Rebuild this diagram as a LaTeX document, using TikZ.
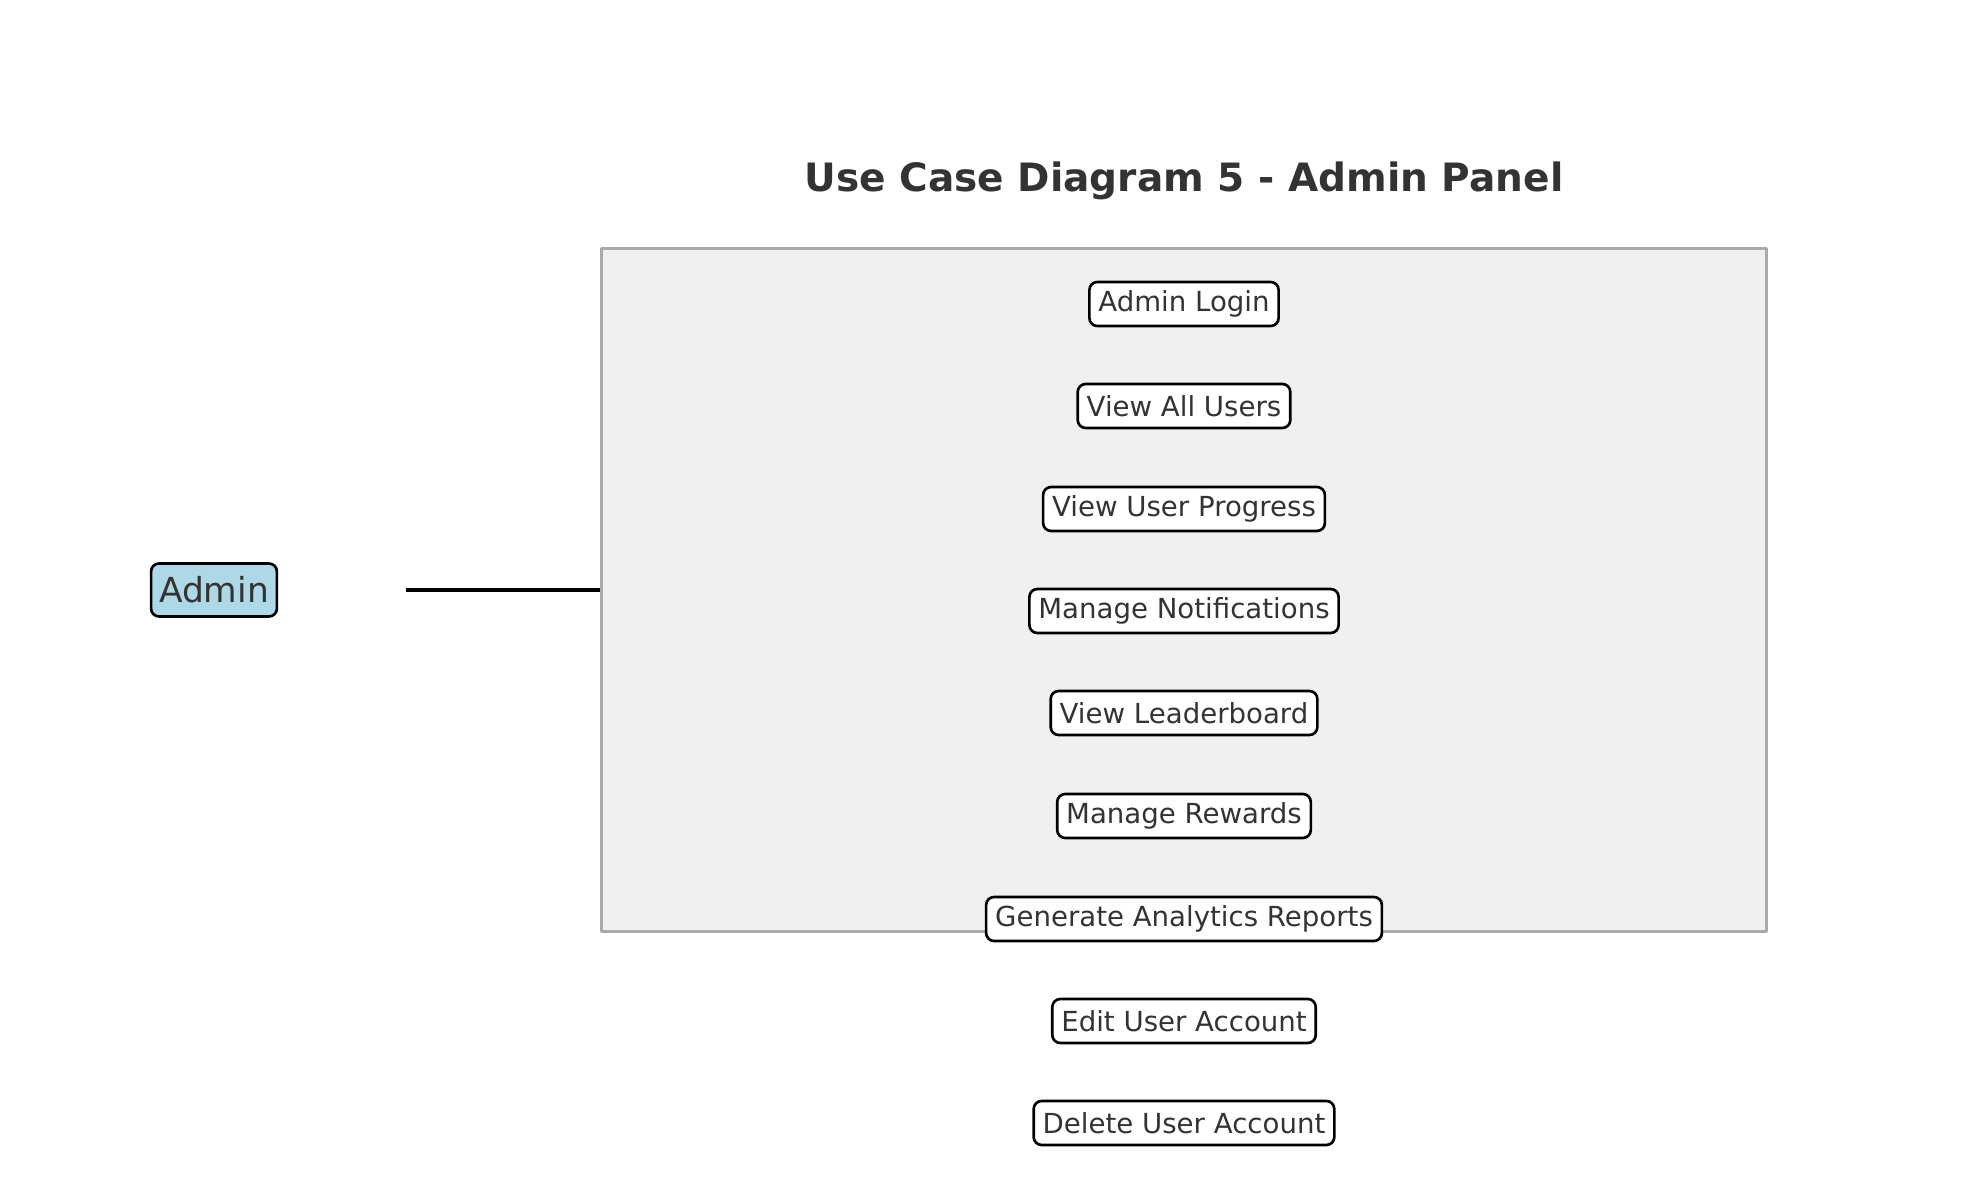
\documentclass[tikz,border=0pt]{standalone}
\usepackage{fontspec}
\setmainfont{DejaVu Sans}
\definecolor{txtgray}{HTML}{333333}
\definecolor{boundgray}{HTML}{AAAAAA}
\definecolor{boundfill}{HTML}{F0F0F0}
\definecolor{actorblue}{RGB}{173,216,230}

\begin{document}
\begin{tikzpicture}[
  x=0.01cm,
  y=-0.01cm,
  line cap=round,
  line join=round,
  usecase/.style={
    draw=black,
    line width=0.75pt,
    fill=white,
    rounded corners=0.08cm,
    text=txtgray,
    inner xsep=0.09cm,
    inner ysep=0.06cm,
    minimum height=0.44cm,
    font=\fontsize{7.85}{10}\selectfont
  },
  actor/.style={
    draw=black,
    line width=0.75pt,
    fill=actorblue,
    rounded corners=0.08cm,
    text=txtgray,
    inner xsep=0.08cm,
    minimum height=0.53cm,
    font=\fontsize{9.8}{12}\selectfont
  }
]
  \useasboundingbox (0,0) rectangle (1979,1180);

  % Заголовок
  \node[text=txtgray,font=\fontsize{11.1}{14}\bfseries\selectfont]
    (title) at (1184,181) {Use Case Diagram 5 - Admin Panel};

  % Граница системы
  \node[
    draw=boundgray,
    line width=0.75pt,
    fill=boundfill,
    minimum width=11.64cm,
    minimum height=6.83cm,
    inner sep=0pt
  ] (system) at (1184,590) {};

  % Актёр и связь
  \node[actor] (admin) at (214,590) {Admin};
  \coordinate (linestart) at (406,590);

  \draw[line width=1.1pt,line cap=butt]
    (linestart) -- (system.west);

  % Варианты использования
  \node[usecase] (login) at (1184,304) {Admin Login};
  \node[usecase] (users) at (1184,406) {View All Users};
  \node[usecase] (progress) at (1184,509) {View User Progress};
  \node[usecase] (notify) at (1184,611) {Manage Notifications};
  \node[usecase] (leader) at (1184,713) {View Leaderboard};
  \node[usecase] (rewards) at (1184,816) {Manage Rewards};
  \node[usecase] (reports) at (1184,919) {Generate Analytics Reports};
  \node[usecase] (edit) at (1184,1021) {Edit User Account};
  \node[usecase] (delete) at (1184,1123) {Delete User Account};
\end{tikzpicture}
\end{document}
